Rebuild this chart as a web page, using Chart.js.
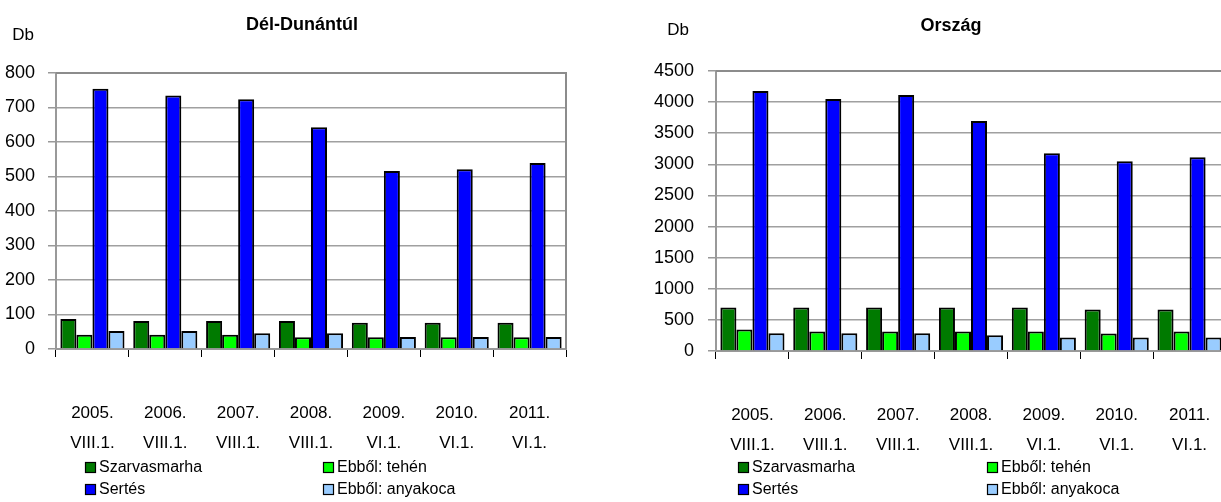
<!DOCTYPE html>
<html>
<head>
<meta charset="utf-8">
<script src="https://cdn.jsdelivr.net/npm/chart.js@4"></script>
<style>
  html, body { margin:0; padding:0; background:#fff; width:1221px; height:502px; overflow:hidden; }
  canvas { position:absolute; top:0; display:block; }
  #c1 { left:0; width:610px; height:502px; }
  #c2 { left:610px; width:620px; height:502px; }
</style>
</head>
<body>
<canvas id="c1" width="610" height="502"></canvas>
<canvas id="c2" width="620" height="502"></canvas>
<script>
// ---- data ----
const years = ['2005.', '2006.', '2007.', '2008.', '2009.', '2010.', '2011.'];
const dates = ['VIII.1.', 'VIII.1.', 'VIII.1.', 'VIII.1.', 'VI.1.', 'VI.1.', 'VI.1.'];
const seriesNames = ['Szarvasmarha', 'Ebből: tehén', 'Sertés', 'Ebből: anyakoca'];

// Dél-Dunántúl (Db)
const ddSzarvasmarha = [87, 81, 81, 81, 76, 76, 76];
const ddTehen = [41, 41, 41, 34, 34, 34, 34];
const ddSertes = [754, 735, 724, 643, 516, 521, 539];
const ddAnyakoca = [52, 52, 46, 46, 35, 35, 35];
const ddTicks = [0, 100, 200, 300, 400, 500, 600, 700, 800];

// Ország (Db)
const orSzarvasmarha = [700, 700, 700, 700, 700, 668, 668];
const orTehen = [345, 315, 315, 315, 315, 282, 315];
const orSertes = [4180, 4050, 4115, 3695, 3180, 3050, 3115];
const orAnyakoca = [284, 284, 284, 252, 218, 218, 218];
const orTicks = [0, 500, 1000, 1500, 2000, 2500, 3000, 3500, 4000, 4500];

// ---- styling ----
const SANS = "'Liberation Sans', Arial, sans-serif";
const colors = ['#007A00', '#00FF00', '#0000FF', '#99CCFF'];

const categories = years.map((y, i) => [y, dates[i]]);

const decoPlugin = {
  id: 'deco',
  afterDraw(chart, args, o) {
    const ctx = chart.ctx;
    const a = chart.chartArea;
    ctx.save();
    // plot border top/right
    ctx.strokeStyle = '#8c8c8c';
    ctx.lineWidth = 2;
    ctx.beginPath();
    ctx.moveTo(a.left, a.top);
    ctx.lineTo(a.right, a.top);
    ctx.lineTo(a.right, a.bottom);
    ctx.stroke();
    // title
    ctx.fillStyle = '#000';
    ctx.textAlign = 'center';
    ctx.textBaseline = 'middle';
    ctx.font = 'bold 18px ' + SANS;
    ctx.fillText(o.title, o.titleX, o.titleY);
    // unit
    ctx.font = '17px ' + SANS;
    ctx.fillText('Db', o.unitX, o.unitY);
    // legend
    ctx.font = '16px ' + SANS;
    ctx.textAlign = 'left';
    chart.data.datasets.forEach((ds, i) => {
      const col = i % 2, row = Math.floor(i / 2);
      const x = o.legendCols[col], y = o.legendRows[row];
      ctx.fillStyle = ds.backgroundColor;
      ctx.fillRect(x, y - 6, 11, 11);
      ctx.strokeStyle = '#000';
      ctx.lineWidth = 1.2;
      ctx.strokeRect(x + 0.5, y - 5.5, 10, 10);
      ctx.fillStyle = '#000';
      ctx.fillText(ds.label, x + 14, y);
    });
    ctx.restore();
  }
};

function makeChart(id, data, ticks, max, geo, deco) {
  const datasets = data.map((d, i) => ({
    label: seriesNames[i],
    data: d,
    backgroundColor: colors[i],
    borderColor: '#000',
    borderWidth: 2,
    borderSkipped: 'bottom',
    categoryPercentage: 0.88,
    barPercentage: 1.0
  }));
  return new Chart(document.getElementById(id), {
    type: 'bar',
    data: { labels: categories, datasets },
    options: {
      responsive: false,
      devicePixelRatio: 1,
      animation: false,
      events: [],
      layout: { padding: { top: geo.top, right: geo.right, left: 0, bottom: 0 } },
      plugins: {
        legend: { display: false },
        title: { display: false },
        tooltip: { enabled: false },
        deco
      },
      scales: {
        x: {
          grid: { display: true, drawOnChartArea: false, drawTicks: true, tickLength: 8, tickColor: '#000', lineWidth: 1, offset: true },
          border: { display: true, color: '#999', width: 2 },
          ticks: { color: '#000', font: { family: SANS, size: 17, lineHeight: '30px' }, padding: geo.xPad, maxRotation: 0, autoSkip: false },
          afterFit(s) { s.height = geo.xHeight; s.paddingLeft = 0; s.paddingRight = 0; }
        },
        y: {
          min: 0, max: max,
          afterBuildTicks(s) { s.ticks = ticks.map(v => ({ value: v })); },
          grid: { color: '#a0a0a0', lineWidth: 1.5, tickLength: 8, tickColor: '#999' },
          border: { display: true, color: '#999', width: 2 },
          ticks: { color: '#000', font: { family: SANS, size: 18 }, padding: geo.yPad, callback: v => String(v) },
          afterFit(s) { s.width = geo.yWidth; s.paddingTop = 0; s.paddingBottom = 0; }
        }
      }
    },
    plugins: [decoPlugin]
  });
}

makeChart('c1', [ddSzarvasmarha, ddTehen, ddSertes, ddAnyakoca], ddTicks, 800,
  { top: 73, right: 44, xHeight: 153, yWidth: 56, xPad: 41, yPad: 13 },
  { title: 'Dél-Dunántúl', titleX: 302, titleY: 25, unitX: 23, unitY: 35,
    legendCols: [85, 323], legendRows: [468, 490] });

makeChart('c2', [orSzarvasmarha, orTehen, orSertes, orAnyakoca], orTicks, 4500,
  { top: 71, right: 4, xHeight: 151, yWidth: 106, xPad: 41, yPad: 14 },
  { title: 'Ország', titleX: 341, titleY: 26, unitX: 68, unitY: 30,
    legendCols: [128, 377], legendRows: [468, 490] });
</script>
</body>
</html>
